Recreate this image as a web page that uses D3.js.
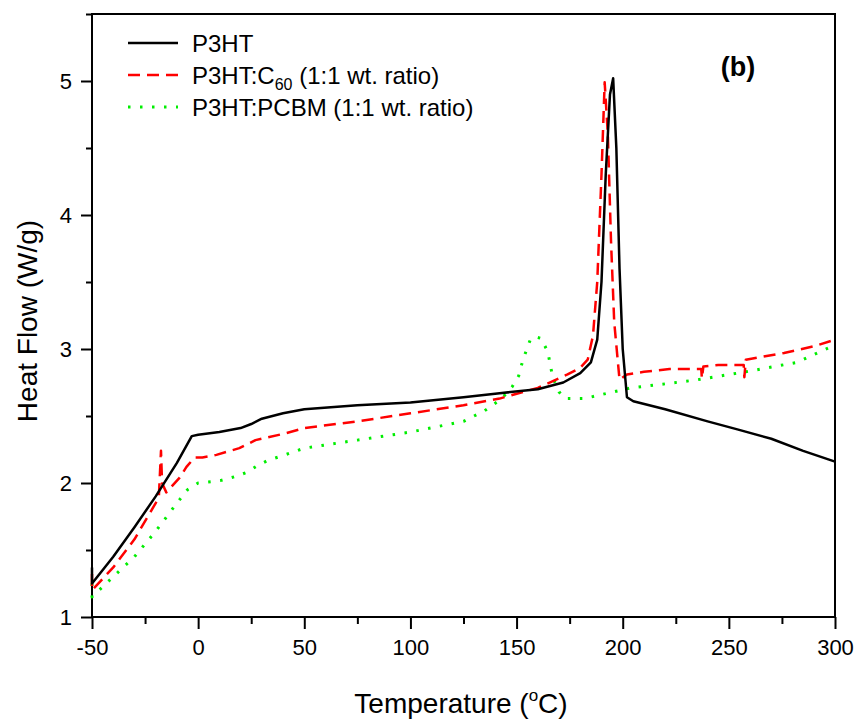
<!DOCTYPE html>
<html>
<head>
<meta charset="utf-8">
<script src="https://cdn.jsdelivr.net/npm/d3@7"></script>
<style>
  body { margin: 0; background: #fff; }
  text { font-family: "Liberation Sans", Arial, sans-serif; }
</style>
</head>
<body>
<svg id="chart" width="857" height="726"></svg>
<script>
// data
var p3htT = [-50, -50, -40, -30, -20, -10, -3, 0, 10, 20, 25, 30, 40, 50, 75, 100, 125, 142, 160, 172, 180, 185, 188, 190, 192, 194, 195.5, 197, 198.5, 200, 202, 205, 220, 240, 254, 270, 285, 300];
var p3htHF = [1.37, 1.25, 1.45, 1.67, 1.9, 2.15, 2.35, 2.36, 2.38, 2.41, 2.44, 2.48, 2.52, 2.55, 2.58, 2.6, 2.64, 2.67, 2.7, 2.75, 2.82, 2.9, 3.07, 3.5, 4.3, 4.9, 5.02, 4.5, 3.6, 3.0, 2.64, 2.61, 2.55, 2.46, 2.4, 2.33, 2.24, 2.16];

var c60T = [-50, -50, -40, -30, -20, -18.5, -17.5, -17, -15, -8.7, -5.5, -1.7, 2, 8.6, 19.4, 27, 41, 50, 75, 100, 125, 142, 160, 174, 180, 183.5, 186, 188, 190, 191.5, 193, 194.5, 196, 198.5, 202, 210, 222, 232, 237, 237.3, 238, 245, 252, 257, 257.3, 258, 265, 276, 290, 300];
var c60HF = [1.32, 1.2, 1.37, 1.58, 1.85, 1.9, 2.24, 2.0, 1.93, 2.04, 2.12, 2.19, 2.19, 2.21, 2.26, 2.32, 2.37, 2.41, 2.46, 2.52, 2.58, 2.63, 2.71, 2.81, 2.86, 2.92, 3.1, 3.5, 4.3, 4.99, 4.6, 3.8, 3.2, 2.77, 2.81, 2.83, 2.85, 2.85, 2.85, 2.78, 2.87, 2.88, 2.88, 2.88, 2.79, 2.92, 2.94, 2.97, 3.02, 3.07];

var pcbmT = [-50, -50, -40, -30, -20, -10, -5, 0, 6, 11, 18, 23, 28, 33, 39, 50, 75, 100, 125, 135, 143, 148, 151, 153, 156.7, 159, 161.5, 164.7, 167, 170, 173, 182, 190, 204, 220, 235, 258, 282, 300];
var pcbmHF = [1.25, 1.15, 1.3, 1.45, 1.64, 1.85, 1.95, 2.0, 2.01, 2.02, 2.05, 2.08, 2.13, 2.17, 2.2, 2.26, 2.32, 2.38, 2.46, 2.54, 2.63, 2.72, 2.8, 2.92, 3.08, 3.09, 3.08, 2.98, 2.79, 2.68, 2.63, 2.63, 2.66, 2.71, 2.74, 2.77, 2.83, 2.9, 3.03];

var xTicks = [-50, 0, 50, 100, 150, 200, 250, 300];
var yTicks = [1, 2, 3, 4, 5];

var seriesNames = ["P3HT", "P3HT:C60 (1:1 wt. ratio)", "P3HT:PCBM (1:1 wt. ratio)"];

// plot box (pixels)
var padL = 92, padR = 835, padT = 14, padB = 617;

var svg = d3.select("#chart");

var x = d3.scaleLinear().domain([-50, 300]).range([padL, padR]);
var y = d3.scaleLinear().domain([1, 5.5]).range([padB, padT]);

var plain = function(d) { return String(d); };

// minor ticks (half steps)
var xMinor = [];
for (var i = 0; i < xTicks.length - 1; i++) {
  xMinor.push((xTicks[i] + xTicks[i + 1]) / 2);
}
var yMinor = [];
for (var j = 0; j < yTicks.length; j++) {
  if (yTicks[j] + 0.5 <= 5.5) yMinor.push(yTicks[j] + 0.5);
}

var xAxis = svg.append("g")
  .attr("transform", "translate(0," + padB + ")")
  .call(d3.axisBottom(x).tickValues(xTicks).tickSize(12).tickPadding(10).tickFormat(plain));
xAxis.select(".domain").remove();
xAxis.selectAll(".tick line").attr("stroke-width", 2);
xAxis.selectAll("text").attr("font-size", 22).attr("fill", "#000");

var xAxisMinor = svg.append("g")
  .attr("transform", "translate(0," + padB + ")")
  .call(d3.axisBottom(x).tickValues(xMinor).tickSize(7).tickFormat(""));
xAxisMinor.select(".domain").remove();
xAxisMinor.selectAll(".tick line").attr("stroke-width", 2);

var yAxis = svg.append("g")
  .attr("transform", "translate(" + padL + ",0)")
  .call(d3.axisLeft(y).tickValues(yTicks).tickSize(11).tickPadding(9).tickFormat(plain));
yAxis.select(".domain").remove();
yAxis.selectAll(".tick line").attr("stroke-width", 2);
yAxis.selectAll("text").attr("font-size", 22).attr("fill", "#000");

var yAxisMinor = svg.append("g")
  .attr("transform", "translate(" + padL + ",0)")
  .call(d3.axisLeft(y).tickValues(yMinor).tickSize(6).tickFormat(""));
yAxisMinor.select(".domain").remove();
yAxisMinor.selectAll(".tick line").attr("stroke-width", 2);

// frame
svg.append("rect")
  .attr("x", padL).attr("y", padT)
  .attr("width", padR - padL).attr("height", padB - padT)
  .attr("fill", "none").attr("stroke", "#000").attr("stroke-width", 2);

var line = d3.line()
  .x(function(d) { return x(d[0]); })
  .y(function(d) { return y(d[1]); });

function pairs(a, b) {
  return a.map(function(v, k) { return [v, b[k]]; });
}

var styles = [
  { color: "#000", dash: null, width: 2.5 },
  { color: "#ff0000", dash: "12,7", width: 2.5 },
  { color: "#00ee00", dash: "2.5,9.5", width: 3 }
];
var allData = [pairs(p3htT, p3htHF), pairs(c60T, c60HF), pairs(pcbmT, pcbmHF)];

var plot = svg.append("g");
// PCBM first, then C60, P3HT on top
[2, 1, 0].forEach(function(k) {
  plot.append("path")
    .datum(allData[k])
    .attr("d", line)
    .attr("fill", "none")
    .attr("stroke", styles[k].color)
    .attr("stroke-width", styles[k].width)
    .attr("stroke-dasharray", styles[k].dash)
    .attr("stroke-linejoin", "round");
});

// legend
var legend = svg.append("g");
var legY = [43, 75, 107];
for (var k = 0; k < 3; k++) {
  legend.append("line")
    .attr("x1", 128).attr("x2", 178)
    .attr("y1", legY[k]).attr("y2", legY[k])
    .attr("stroke", styles[k].color)
    .attr("stroke-width", styles[k].width)
    .attr("stroke-dasharray", styles[k].dash);
}
legend.append("text").attr("x", 192).attr("y", legY[0] + 9).attr("font-size", 24).text(seriesNames[0]);
var t2 = legend.append("text").attr("x", 192).attr("y", legY[1] + 9).attr("font-size", 24);
t2.append("tspan").text("P3HT:C");
t2.append("tspan").attr("font-size", 16).attr("dy", 6).text("60");
t2.append("tspan").attr("dy", -6).text(" (1:1 wt. ratio)");
legend.append("text").attr("x", 192).attr("y", legY[2] + 9).attr("font-size", 24).text(seriesNames[2]);

// panel label
svg.append("text")
  .attr("x", 738).attr("y", 76)
  .attr("text-anchor", "middle")
  .attr("font-size", 27).attr("font-weight", "bold")
  .text("(b)");

// axis titles
var xt = svg.append("text")
  .attr("x", 461).attr("y", 713)
  .attr("text-anchor", "middle")
  .attr("font-size", 28);
xt.append("tspan").text("Temperature (");
xt.append("tspan").attr("font-size", 17).attr("dy", -12).text("o");
xt.append("tspan").attr("dy", 12).text("C)");

svg.append("text")
  .attr("transform", "translate(37,321) rotate(-90)")
  .attr("text-anchor", "middle")
  .attr("font-size", 28)
  .text("Heat Flow (W/g)");
</script>
</body>
</html>
